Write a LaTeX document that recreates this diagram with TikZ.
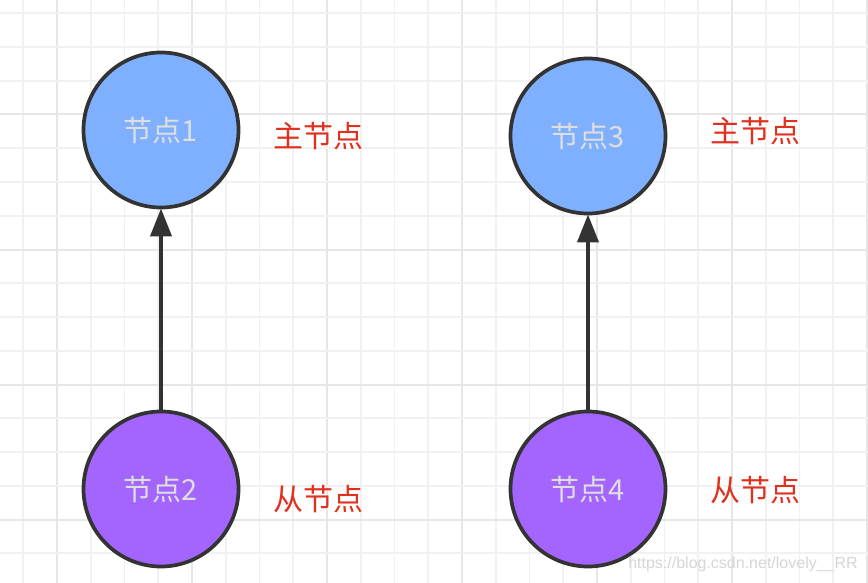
\documentclass[tikz,border=0pt]{standalone}
\usepackage{fontspec}
\newfontfamily\cjk{Noto Sans CJK SC}
\newfontfamily\wmfont{Liberation Sans}
\usetikzlibrary{arrows.meta}
\definecolor{gridminor}{HTML}{F1F1F1}
\definecolor{gridmajor}{HTML}{E6E6E6}
\definecolor{nodeblue}{HTML}{7FB0FF}
\definecolor{nodepurple}{HTML}{A365FE}
\definecolor{edgegray}{HTML}{333333}
\definecolor{nodetext}{HTML}{DEDEDE}
\definecolor{labelred}{HTML}{E0301E}
\definecolor{wmgray}{HTML}{D6D6D6}
\tikzset{
  nodecircle/.style={circle, draw=edgegray, line width=3.7pt, minimum size=155pt, inner sep=0pt,
    text=nodetext, font=\cjk\fontsize{29}{32}\selectfont},
  masternode/.style={nodecircle, fill=nodeblue},
  slavenode/.style={nodecircle, fill=nodepurple},
  rolelabel/.style={text=labelred, font=\cjk\fontsize{30}{33}\selectfont, inner sep=0pt},
  linkarrow/.style={draw=edgegray, line width=4pt, -{Triangle[length=28pt,width=21pt]}, shorten >=-1pt},
  minorline/.style={draw=gridminor, line width=1.8pt},
  majorline/.style={draw=gridmajor, line width=2pt}
}
\begin{document}
\begin{tikzpicture}[x=1pt,y=-1pt]
\useasboundingbox (0,0) rectangle (868,583);
\fill[white] (0,0) rectangle (868,583);
% grid
\foreach \k in {0,...,25} {
  \pgfmathsetmacro{\gx}{23.25+33.75*\k}
  \pgfmathtruncatemacro{\m}{mod(\k,4)}
  \ifnum\m=1
    \draw[majorline] (\gx,0) -- (\gx,583);
  \else
    \draw[minorline] (\gx,0) -- (\gx,583);
  \fi
}
\foreach \k in {0,...,16} {
  \pgfmathsetmacro{\gy}{13.25+33.75*\k}
  \pgfmathtruncatemacro{\m}{mod(\k,4)}
  \ifnum\m=3
    \draw[majorline] (0,\gy) -- (868,\gy);
  \else
    \draw[minorline] (0,\gy) -- (868,\gy);
  \fi
}
% nodes
\node[masternode] (n1) at (161,130) {节点1};
\node[masternode] (n3) at (588,136) {节点3};
\node[slavenode] (n2) at (161,489) {节点2};
\node[slavenode] (n4) at (588,489) {节点4};
% labels
\node[rolelabel] (l1) at (318,136) {主节点};
\node[rolelabel] (l3) at (755,131) {主节点};
\node[rolelabel] (l2) at (318,499) {从节点};
\node[rolelabel] (l4) at (755,490) {从节点};
% arrows
\draw[linkarrow] (n2) -- (n1);
\draw[linkarrow] (n4) -- (n3);
% watermark
\node[text=wmgray, font=\wmfont\fontsize{16}{18}\selectfont, inner sep=0pt] (wm) at (743,564) {https://blog.csdn.net/lovely\_\_RR};
\end{tikzpicture}
\end{document}
